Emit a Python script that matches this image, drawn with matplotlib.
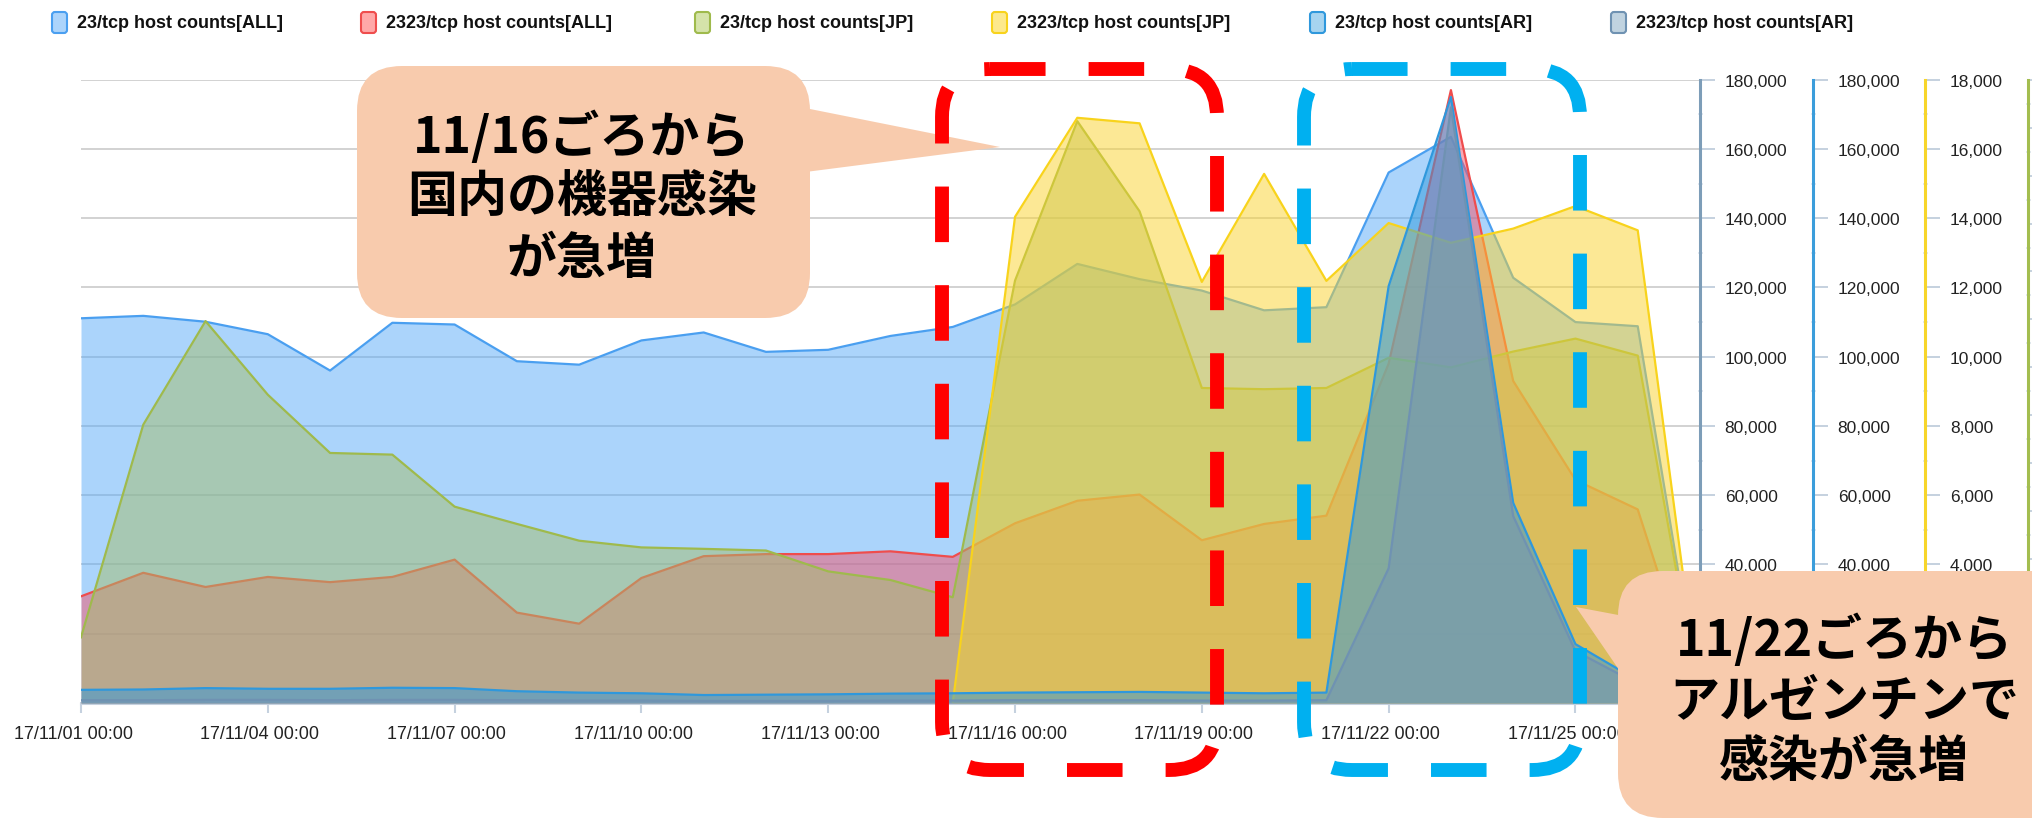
import matplotlib
matplotlib.use("Agg")
import matplotlib.pyplot as plt
import matplotlib.dates as mdates
import matplotlib.patches as patches
import matplotlib.transforms as mtransforms
from matplotlib.ticker import MultipleLocator, FuncFormatter
import numpy as np
import pandas as pd

plt.rcParams['font.family'] = ['Liberation Sans', 'DejaVu Sans']

# --- data (host counts per day) ---
days = pd.date_range("2017-11-01", periods=27, freq="D")

all_23 = [111100, 111800, 110100, 106500, 96000, 109800, 109300, 98700, 97700,
          104700, 107000, 101400, 102000, 106000, 108600, 115100, 126800, 122400,
          119100, 113400, 114300, 153200, 163500, 122800, 110000, 108800, 0]
all_2323 = [30800, 37600, 33500, 36400, 34900, 36400, 41400, 26100, 22900,
            36100, 42400, 43000, 43000, 43800, 42200, 51900, 58400, 60200,
            47000, 51700, 54100, 98000, 177000, 93000, 64400, 55900, 0]
jp_23 = [2740, 11610, 15930, 12860, 10430, 10360, 8190, 7470, 6770,
         6490, 6430, 6360, 5490, 5130, 4410, 17620, 24270, 20510,
         13140, 13090, 13140, 14400, 14000, 14660, 15200, 14490, 0]
jp_2323 = [None] * 14 + [0, 14040, 16900, 16740, 12160, 15280, 12190,
                         13860, 13290, 13700, 14350, 13650, 0]
ar_23 = [3800, 3900, 4300, 4100, 4100, 4400, 4300, 3400, 3000,
         2800, 2300, 2400, 2500, 2700, 2800, 3000, 3100, 3200,
         3000, 2800, 3000, 120400, 175000, 57800, 17000, 6500, 0]
ar_2323 = [800, 800, 900, 900, 800, 900, 900, 800, 700,
           700, 600, 600, 600, 700, 700, 800, 800, 800,
           700, 700, 800, 38900, 172000, 54000, 15000, 5500, 0]

legend_labels = ["23/tcp host counts[ALL]", "2323/tcp host counts[ALL]",
                 "23/tcp host counts[JP]", "2323/tcp host counts[JP]",
                 "23/tcp host counts[AR]", "2323/tcp host counts[AR]"]

note_jp = ["11/16ごろから", "国内の機器感染", "が急増"]
note_ar = ["11/22ごろから", "アルゼンチンで", "感染が急増"]

# (line colour, fill colour, legend swatch fill)
styles = [
    ('#4a9ff0', '#58aaf8', '#acd4fb'),
    ('#ef4d4d', '#f4536a', '#ffa8a8'),
    ('#9fba4c', '#a4bd6c', '#d5e3aa'),
    ('#f8d31c', '#fbd32d', '#fde98c'),
    ('#2f98dc', '#2f99dc', '#a6d4f0'),
    ('#6f92b2', '#7395b5', '#c0d3e0'),
]
FILL_ALPHA = 0.5

W, H = 2033, 820
fig = plt.figure(figsize=(W / 100, H / 100), dpi=100)
ax = fig.add_axes([81 / W, 116 / H, 1619 / W, 623.3 / H])

x = mdates.date2num(days)


def area(a, vals, k, z=1):
    line, fill, _ = styles[k]
    y = np.array([np.nan if v is None else v for v in vals], dtype=float)
    a.fill_between(x, 0, y, color=fill, alpha=FILL_ALPHA, lw=0, zorder=z)
    a.plot(x, y, color=line, lw=1.6, zorder=z + 0.5)


# main axis holds the two ALL series
ax.set_xlim(x[0], x[-1])
ax.set_ylim(0, 180000)
ax.set_yticks(np.arange(0, 180001, 20000))
ax.tick_params(axis='y', length=0, labelleft=False)
ax.grid(axis='y', color='#d2d2d2', lw=1.4)
ax.set_axisbelow(True)
for s in ['top', 'left', 'right']:
    ax.spines[s].set_visible(False)
ax.spines['bottom'].set_color('#c5d1df')
ax.spines['bottom'].set_linewidth(2.2)
ax.set_xticks(x[::3])
ax.xaxis.set_major_formatter(mdates.DateFormatter('%y/%m/%d %H:%M'))
ax.tick_params(axis='x', length=7, width=1.5, color='#c5d1df', pad=9,
               labelsize=13, labelcolor='#222222')
shift = mtransforms.ScaledTranslation(-8 / 100, 0, fig.dpi_scale_trans)
for lbl in ax.get_xticklabels():
    lbl.set_transform(lbl.get_transform() + shift)
area(ax, all_23, 0, z=1)
area(ax, all_2323, 1, z=3)


# one right-hand axis per remaining series
def side_axis(pos, color, top, step, labels=True):
    a = ax.twinx()
    a.set_ylim(0, top)
    for s in ['top', 'left', 'bottom']:
        a.spines[s].set_visible(False)
    a.spines['right'].set_position(('axes', pos))
    a.spines['right'].set_color(color)
    a.spines['right'].set_linewidth(2.2)
    a.yaxis.set_major_locator(MultipleLocator(step))
    a.yaxis.set_minor_locator(MultipleLocator(step / 2))
    # labels under the bottom callout are hidden in the source as well
    a.yaxis.set_major_formatter(FuncFormatter(
        lambda v, p: f"{v:,.0f}" if v >= 2 * step else ""))
    a.tick_params(axis='y', which='major', length=10.8, width=1.4, color='#c5d1df',
                  pad=7, labelsize=12.5, labelcolor='#222222', labelright=labels)
    a.tick_params(axis='y', which='minor', length=3.6, width=1.4, color='#e2e9f1',
                  direction='inout')
    return a


# the 23/tcp JP axis sits at the picture edge, its labels are cut off
ax_jp23 = side_axis(1.2026, '#a3bd4f', 26000, 2000, labels=False)
area(ax_jp23, jp_23, 2)
ax_jp2323 = side_axis(1.139, '#f7d52a', 18000, 2000)
area(ax_jp2323, jp_2323, 3)
ax_ar23 = side_axis(1.0698, '#3b9ddb', 180000, 20000)
area(ax_ar23, ar_23, 4)
ax_ar2323 = side_axis(1.0, '#7d9db8', 180000, 20000)
area(ax_ar2323, ar_2323, 5)

# --- overlay in pixel coordinates: legend, callouts, dashed frames ---
ov = fig.add_axes([0, 0, 1, 1], zorder=10)
ov.set_xlim(0, W)
ov.set_ylim(H, 0)
ov.axis('off')
ov.patch.set_alpha(0)

legend_x = [52, 361, 695, 992, 1310, 1611]
for k, (lab, lx) in enumerate(zip(legend_labels, legend_x)):
    line, _, sw = styles[k]
    ov.add_patch(patches.FancyBboxPatch((lx, 13), 15, 21, boxstyle='round,pad=0,rounding_size=3',
                                        fc=sw, ec=line, lw=1.5))
    ov.text(lx + 25, 24, lab, fontsize=13, fontweight='bold', va='center', ha='left',
            color='#111111')

peach = '#f8cbad'
ov.add_patch(patches.FancyBboxPatch((357, 67), 453, 252, boxstyle='round,pad=0,rounding_size=45',
                                    fc=peach, ec='none', zorder=1))
ov.add_patch(patches.Polygon([(790, 106), (1000, 148), (790, 175)], closed=True,
                             fc=peach, ec='none', zorder=1))
ov.add_patch(patches.FancyBboxPatch((1618, 572), 470, 247, boxstyle='round,pad=0,rounding_size=45',
                                    fc=peach, ec='none', zorder=1))
ov.add_patch(patches.Polygon([(1576, 608), (1650, 622), (1650, 716)], closed=True,
                             fc=peach, ec='none', zorder=1))

cjk = ['Noto Sans CJK JP', 'DejaVu Sans']
for txt, yy in zip(note_jp, [137, 198, 260]):
    ov.text(582, yy, txt, fontsize=36, fontweight='bold', family=cjk,
            ha='center', va='center', color='black', zorder=3)
for txt, yy in zip(note_ar, [640, 703, 763]):
    ov.text(1844, yy, txt, fontsize=36, fontweight='bold', family=cjk,
            ha='center', va='center', color='black', zorder=3)

ov.add_patch(patches.FancyBboxPatch((942, 70), 275, 701, boxstyle='round,pad=0,rounding_size=48',
                                    fill=False, ec='#ff0000', lw=10, ls=(0, (4, 3.1)),
                                    capstyle='butt', zorder=2))
ov.add_patch(patches.FancyBboxPatch((1304, 70), 276, 701, boxstyle='round,pad=0,rounding_size=48',
                                    fill=False, ec='#00b0f0', lw=10, ls=(0, (4, 3.1)),
                                    capstyle='butt', zorder=2))

fig.savefig('out.png', dpi=100)
